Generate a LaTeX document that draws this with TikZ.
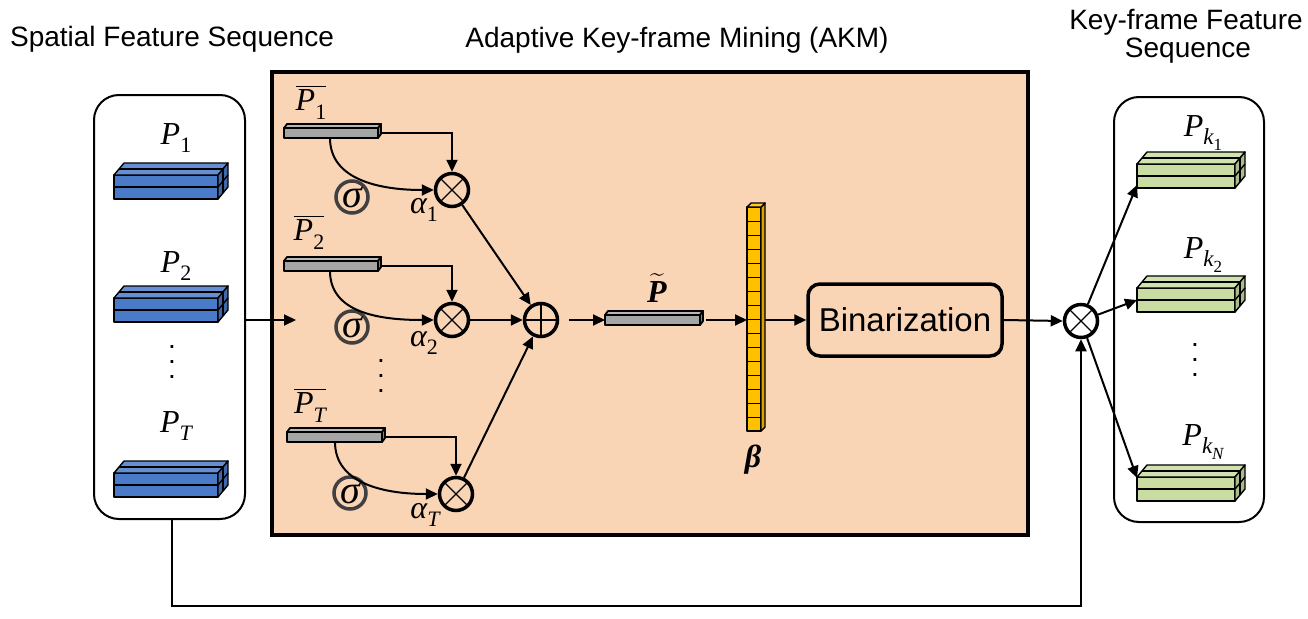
\documentclass[tikz,border=0pt]{standalone}
\usepackage{amsmath}
\usepackage{fontspec}
\setmainfont{Liberation Sans}
\newfontfamily\lserif{Liberation Serif}
\usetikzlibrary{arrows.meta}
\definecolor{peach}{HTML}{F9D4B5}
\definecolor{blockblue}{HTML}{4A7BC9}
\definecolor{blockgreen}{HTML}{C9DDA3}
\definecolor{bargray}{HTML}{A5A5A5}
\definecolor{colyellow}{HTML}{FFC000}
\definecolor{sigmagray}{HTML}{404040}
\newcommand\tallvdots{\vbox{\baselineskip=15pt\lineskiplimit=0pt\hbox{.}\hbox{.}\hbox{.}}}
% symbol with subscript, set in a Cambria-like serif
\newcommand\symsub[2]{{\lserif\itshape #1}\raisebox{-0.27em}{\fontsize{22}{24}\selectfont\lserif #2}}
\newcommand\ksub[1]{\raisebox{-0.27em}{\fontsize{23}{24}\selectfont\lserif\itshape k\raisebox{-0.25em}{\fontsize{17}{18}\selectfont\upshape #1}}}
\tikzset{
  conn/.style={line width=2pt, -{Triangle[length=12pt,width=11pt]}},
  opnode/.style={circle, draw, line width=3.5pt, minimum size=33pt, inner sep=0pt},
  otimesnode/.style={opnode, path picture={\draw[line width=1.3pt]
     (path picture bounding box.south west)--(path picture bounding box.north east)
     (path picture bounding box.north west)--(path picture bounding box.south east);}},
  oplusnode/.style={opnode, path picture={\draw[line width=1.3pt]
     (path picture bounding box.west)--(path picture bounding box.east)
     (path picture bounding box.north)--(path picture bounding box.south);}},
  sigmanode/.style={circle, draw=sigmagray, line width=3.5pt, minimum size=32pt, inner sep=0pt,
     font=\fontsize{40}{40}\selectfont\lserif\itshape},
  mlabel/.style={font=\fontsize{32}{34}\selectfont, inner sep=0pt},
  dotlabel/.style={font=\fontsize{28}{32}\selectfont, inner sep=0pt},
  title/.style={font=\fontsize{28}{32}\selectfont, anchor=base, inner sep=0pt},
  panel/.style={draw, line width=2pt, rounded corners=25pt},
  blockline/.style={line width=1.4pt, line join=round},
}
% 3D feature block: x, y (front top-left), width, colour, name of left coordinate
\newcommand\featblock[5]{%
\begin{scope}[shift={(#1,#2)}]
  \filldraw[blockline, fill=#4] (0,0) rectangle (#3,24);
  \draw[blockline] (0,12) -- (#3,12);
  \filldraw[blockline, fill=#4!85!white] (0,0) -- (10,-12) -- ({#3+10},-12) -- (#3,0) -- cycle;
  \draw[blockline] (5,-6) -- ({#3+5},-6);
  \filldraw[blockline, fill=#4!85!black] (#3,0) -- ({#3+10},-12) -- ({#3+10},12) -- (#3,24) -- cycle;
  \draw[blockline] (#3,12) -- ({#3+10},0);
  \draw[blockline] ({#3+5},-6) -- ({#3+5},18);
  \coordinate (#5) at (0,12);
\end{scope}}
% thin gray bar: x, y (front top-left), width, name prefix
\newcommand\graybar[4]{%
\begin{scope}[shift={(#1,#2)}]
  \filldraw[line width=1.8pt, line join=round, fill=bargray] (0,0) rectangle (#3,10);
  \filldraw[line width=1.8pt, line join=round, fill=bargray!80!white] (0,0) -- (3,-4) -- ({#3+3},-4) -- (#3,0) -- cycle;
  \filldraw[line width=1.8pt, line join=round, fill=bargray!80!black] (#3,0) -- ({#3+3},-4) -- ({#3+3},6) -- (#3,10) -- cycle;
  \coordinate (#4w) at (0,5);
  \coordinate (#4e) at ({#3+3},5);
\end{scope}}
\begin{document}
\begin{tikzpicture}[x=1pt,y=-1pt]
\useasboundingbox (0,0) rectangle (1308,618);
\fill[white] (0,0) rectangle (1308,618);

% titles
\node[title] (t1) at (172,47) {Spatial Feature Sequence};
\node[title] (t2) at (677,48) {Adaptive Key-frame Mining (AKM)};
\node[title] (t3) at (1186,30) {Key-frame Feature};
\node[title] (t4) at (1188,57) {Sequence};

% AKM box
\draw[line width=3.5pt, fill=peach] (272,72) rectangle (1028,535);

% left panel
\draw[panel] (94,95) rectangle (245,519);
\node[mlabel] (lP1) at (176,138) {\symsub{P}{1}};
\node[mlabel] (lP2) at (176,266) {\symsub{P}{2}};
\node[dotlabel] (ldots) at (172,362) {\tallvdots};
\node[mlabel] (lPT) at (176,426) {\symsub{P}{\itshape T}};
\featblock{114}{175}{104}{blockblue}{bl1}
\featblock{114}{298}{104}{blockblue}{bl2}
\featblock{114}{473}{104}{blockblue}{blT}

% right panel
\draw[panel] (1114,97) rectangle (1264,522);
\node[mlabel] (rP1) at (1203,133) {{\lserif\itshape P}\ksub{1}};
\node[mlabel] (rP2) at (1203,255) {{\lserif\itshape P}\ksub{2}};
\node[dotlabel] (rdots) at (1195,360) {\tallvdots};
\node[mlabel] (rPN) at (1203,442) {{\lserif\itshape P}\ksub{\itshape N}};
\featblock{1137}{164}{98}{blockgreen}{gk1}
\featblock{1137}{288}{98}{blockgreen}{gk2}
\featblock{1137}{477}{98}{blockgreen}{gkN}
\coordinate (k1in) at (1137,185);
\coordinate (k2in) at (1137,300);
\coordinate (kNin) at (1137,478);

% bars inside AKM
\node[mlabel] (pb1) at (311,102) {$\overline{\hbox{\symsub{P}{1}}}$};
\node[mlabel] (pb2) at (309,232) {$\overline{\hbox{\symsub{P}{2}}}$};
\node[mlabel] (pbT) at (310,405) {$\overline{\hbox{\symsub{P}{\itshape T}}}$};
\graybar{284}{128}{94}{b1}
\graybar{284}{261}{94}{b2}
\graybar{287}{432}{95}{bT}
\coordinate (c1) at (330,138);
\coordinate (c2) at (330,271);
\coordinate (cT) at (335,442);

\node[otimesnode] (ot1) at (452,190) {};
\node[otimesnode] (ot2) at (452,320) {};
\node[otimesnode] (otT) at (456,494) {};
\node[oplusnode] (op) at (541,320) {};

\node[sigmanode] (s1) at (352,197) {σ};
\node[sigmanode] (s2) at (352,327) {σ};
\node[sigmanode] (sT) at (350,493) {σ};
\node[mlabel] (a1) at (424,210) {\symsub{α}{1}};
\node[mlabel] (a2) at (424,343) {\symsub{α}{2}};
\node[mlabel] (aT) at (425,515) {\symsub{α}{\itshape T}};
\node[dotlabel] (mdots) at (381,376) {\tallvdots};

\draw[conn] (b1e) -| (ot1.north);
\draw[conn] (b2e) -| (ot2.north);
\draw[conn] (bTe) -| (otT.north);
\draw[conn] (c1) .. controls (330,180) and (380,190) .. (ot1.west);
\draw[conn] (c2) .. controls (330,313) and (380,320) .. (ot2.west);
\draw[conn] (cT) .. controls (335,484) and (385,494) .. (otT.west);
\draw[conn] (ot1) -- (op);
\draw[conn] (ot2) -- (op);
\draw[conn] (otT) -- (op);

% P tilde bar
\graybar{605}{315}{95}{pt}
\node[mlabel] (ptl) at (657,288) {$\widetilde{\hbox{\lserif\bfseries\itshape P}}$};
\draw[conn] (op.east) ++(10,0) coordinate (opout) (opout) -- (ptw);

% beta column
\begin{scope}
  \filldraw[blockline, fill=colyellow] (747,207) rectangle (761,431);
  \filldraw[blockline, fill=colyellow!85!black] (761,207) -- (765,203) -- (765,427) -- (761,431) -- cycle;
  \filldraw[blockline, fill=colyellow!85!white] (747,207) -- (751,203) -- (765,203) -- (761,207) -- cycle;
  \foreach \i in {1,...,15} {\draw[line width=1pt] (747,{207+14*\i}) -- (761,{207+14*\i});}
\end{scope}
\coordinate (colw) at (747,320);
\coordinate (cole) at (765,320);
\node[mlabel] (beta) at (753,460) {\lserif\bfseries\itshape β};
\draw[conn] (pte) ++(3,0) coordinate (pteo) (pteo) -- (colw);

% binarization
\node[draw, line width=3.5pt, rounded corners=12pt, minimum width=194pt, minimum height=72pt,
      font=\fontsize{33}{36}\selectfont] (bin) at (905,320) {Binarization};
\draw[conn] (cole) -- (bin.west);

\node[otimesnode] (otR) at (1081,321) {};
\draw[conn] (bin.east) -- (otR.west);
\draw[conn] (otR) -- (k1in);
\draw[conn] (otR) -- (k2in);
\draw[conn] (otR) -- (kNin);

% from left panel into AKM
\coordinate (lpout) at (245,320);
\coordinate (akmin) at (296,320);
\draw[conn] (lpout) -- (akmin);

% skip connection
\coordinate (lpbot) at (172,519);
\draw[conn] (lpbot) -- (172,606) -| (otR.south);
\end{tikzpicture}
\end{document}
